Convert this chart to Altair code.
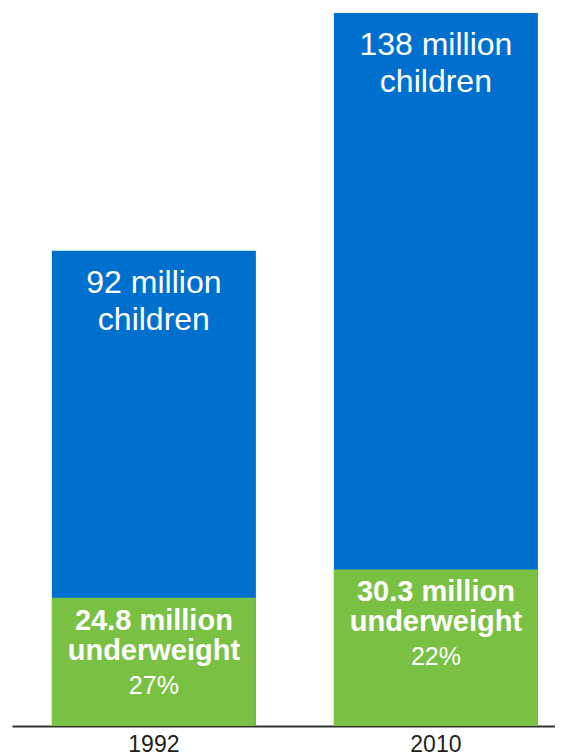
import altair as alt
import pandas as pd

years = ["1992", "2010"]
total_children = [92, 138]
underweight = [24.8, 30.3]
total_labels = [["92 million", "children"], ["138 million", "children"]]
under_labels = [["24.8 million", "underweight"], ["30.3 million", "underweight"]]
pct_labels = ["27%", "22%"]

df = pd.DataFrame({
    "year": years,
    "total": total_children,
    "under": underweight,
    "tlabel": total_labels,
    "ulabel": under_labels,
    "plabel": pct_labels,
})

BLUE = "#0070CE"
GREEN = "#7AC143"
FONT = "Liberation Sans"

x = alt.X("year:N", sort=years, title=None,
          scale=alt.Scale(paddingInner=0.2766, paddingOuter=0.101, align=0.70),
          axis=alt.Axis(labelAngle=0, ticks=False, tickSize=0, labelPadding=7,
                        labelFontSize=23, labelColor="#231F20", labelFont=FONT,
                        domainColor="#333333", domainWidth=2, grid=False))
yscale = alt.Scale(domain=[0, 138], nice=False, zero=True)

base = alt.Chart(df)

blue = base.mark_bar(color=BLUE, size=204).encode(
    x=x, y=alt.Y("total:Q", scale=yscale, axis=None, stack=None))
green = base.mark_bar(color=GREEN, size=204).encode(
    x=x, y=alt.Y("under:Q", scale=yscale, axis=None, stack=None))

tlab = base.mark_text(color="white", font=FONT, fontSize=32, lineHeight=37,
                      baseline="alphabetic", dy=42).encode(
    x=x, y=alt.Y("total:Q", scale=yscale, axis=None), text="tlabel")
ulab = base.mark_text(color="white", font=FONT, fontSize=29, fontWeight="bold",
                      lineHeight=30, baseline="alphabetic", dy=32).encode(
    x=x, y=alt.Y("under:Q", scale=yscale, axis=None), text="ulabel")
plab = base.mark_text(color="white", font=FONT, fontSize=25,
                      baseline="alphabetic", dy=96).encode(
    x=x, y=alt.Y("under:Q", scale=yscale, axis=None), text="plabel")

chart = alt.layer(blue, green, tlab, ulab, plab).properties(
    width=547, height=748,
    padding={"left": 4, "top": 5, "right": 0, "bottom": 0},
    autosize=alt.AutoSizeParams(type="fit", contains="padding"),
).configure_view(stroke=None)

chart.save("out.html", embed_options={"renderer": "svg", "actions": False})
